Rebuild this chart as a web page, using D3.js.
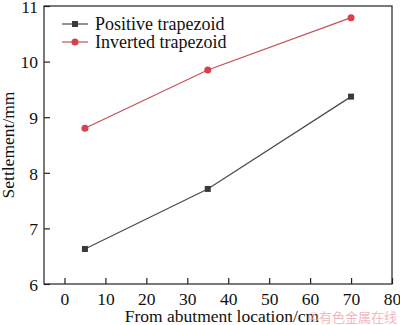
<!DOCTYPE html>
<html>
<head>
<meta charset="utf-8">
<script src="https://cdn.jsdelivr.net/npm/d3@7"></script>
<style>
  body { margin: 0; background: #fff; }
</style>
</head>
<body>
<div id="chart"></div>
<script>
const locations = [5, 35, 70];
const positiveTrapezoid = [6.63, 7.71, 9.37];
const invertedTrapezoid = [8.80, 9.85, 10.79];
const xTicks = [0, 10, 20, 30, 40, 50, 60, 70, 80];
const yTicks = [6, 7, 8, 9, 10, 11];

const width = 400;
const height = 325;
const margin = { top: 6, right: 8, bottom: 41, left: 44 };
const serif = '"Times New Roman", "Liberation Serif", "DejaVu Serif", serif';

const svg = d3.select('#chart').append('svg')
  .attr('width', width)
  .attr('height', height)
  .style('font-family', serif);

const x = d3.scaleLinear().domain([-5, 80]).range([margin.left, width - margin.right]);
const y = d3.scaleLinear().domain([6, 11]).range([height - margin.bottom, margin.top]);

// frame
svg.append('rect')
  .attr('x', margin.left)
  .attr('y', margin.top)
  .attr('width', width - margin.left - margin.right)
  .attr('height', height - margin.top - margin.bottom)
  .attr('fill', 'none')
  .attr('stroke', '#222')
  .attr('stroke-width', 1.2);

const xAxis = svg.append('g')
  .attr('transform', `translate(0,${height - margin.bottom})`)
  .call(d3.axisBottom(x).tickValues(xTicks).tickFormat(d3.format('d')).tickSize(-6).tickPadding(9));

const yAxis = svg.append('g')
  .attr('transform', `translate(${margin.left},0)`)
  .call(d3.axisLeft(y).tickValues(yTicks).tickFormat(d3.format('d')).tickSize(-6).tickPadding(6));

[xAxis, yAxis].forEach(g => {
  g.attr('font-family', serif).attr('font-size', 17.5);
  g.select('.domain').remove();
  g.selectAll('line').attr('stroke', '#222').attr('stroke-width', 1.2);
  g.selectAll('text').attr('fill', '#111');
});
yAxis.selectAll('text').attr('dy', '0.36em');

svg.append('text')
  .attr('x', (margin.left + width - margin.right) / 2 + 4)
  .attr('y', 322)
  .attr('text-anchor', 'middle')
  .attr('font-size', 17.5)
  .attr('fill', '#111')
  .text('From abutment location/cm');

svg.append('text')
  .attr('transform', `translate(14,${(margin.top + height - margin.bottom) / 2}) rotate(-90)`)
  .attr('text-anchor', 'middle')
  .attr('font-size', 17.5)
  .attr('fill', '#111')
  .text('Settlement/mm');

const series = [
  { name: 'Positive trapezoid', values: positiveTrapezoid, line: '#4a4a4a', fill: '#3a3a3a', shape: 'square' },
  { name: 'Inverted trapezoid', values: invertedTrapezoid, line: '#c4505a', fill: '#d8414b', shape: 'circle' },
];

const line = d3.line().x(d => x(d[0])).y(d => y(d[1]));

function marker(g, s, cx, cy) {
  if (s.shape === 'square') {
    g.append('rect')
      .attr('x', cx - 3).attr('y', cy - 3)
      .attr('width', 6).attr('height', 6)
      .attr('fill', s.fill);
  } else {
    g.append('circle')
      .attr('cx', cx).attr('cy', cy).attr('r', 3.5)
      .attr('fill', s.fill);
  }
}

series.forEach(s => {
  const pts = locations.map((l, i) => [l, s.values[i]]);
  const g = svg.append('g');
  g.append('path')
    .attr('d', line(pts))
    .attr('fill', 'none')
    .attr('stroke', s.line)
    .attr('stroke-width', 1.2);
  pts.forEach(p => marker(g, s, x(p[0]), y(p[1])));
});

// legend
const legend = svg.append('g');
series.forEach((s, i) => {
  const ly = 24 + i * 18;
  legend.append('line')
    .attr('x1', 62).attr('x2', 88)
    .attr('y1', ly).attr('y2', ly)
    .attr('stroke', s.line).attr('stroke-width', 1.2);
  marker(legend, s, 75, ly);
  legend.append('text')
    .attr('x', 95).attr('y', ly + 5.5)
    .attr('font-size', 18)
    .attr('fill', '#111')
    .text(s.name);
});

svg.append('text')
  .attr('x', 397)
  .attr('y', 322)
  .attr('text-anchor', 'end')
  .attr('font-size', 13)
  .attr('fill', '#f2b8bd')
  .style('font-family', '"Noto Sans CJK SC", sans-serif')
  .text('©有色金属在线');
</script>
</body>
</html>
